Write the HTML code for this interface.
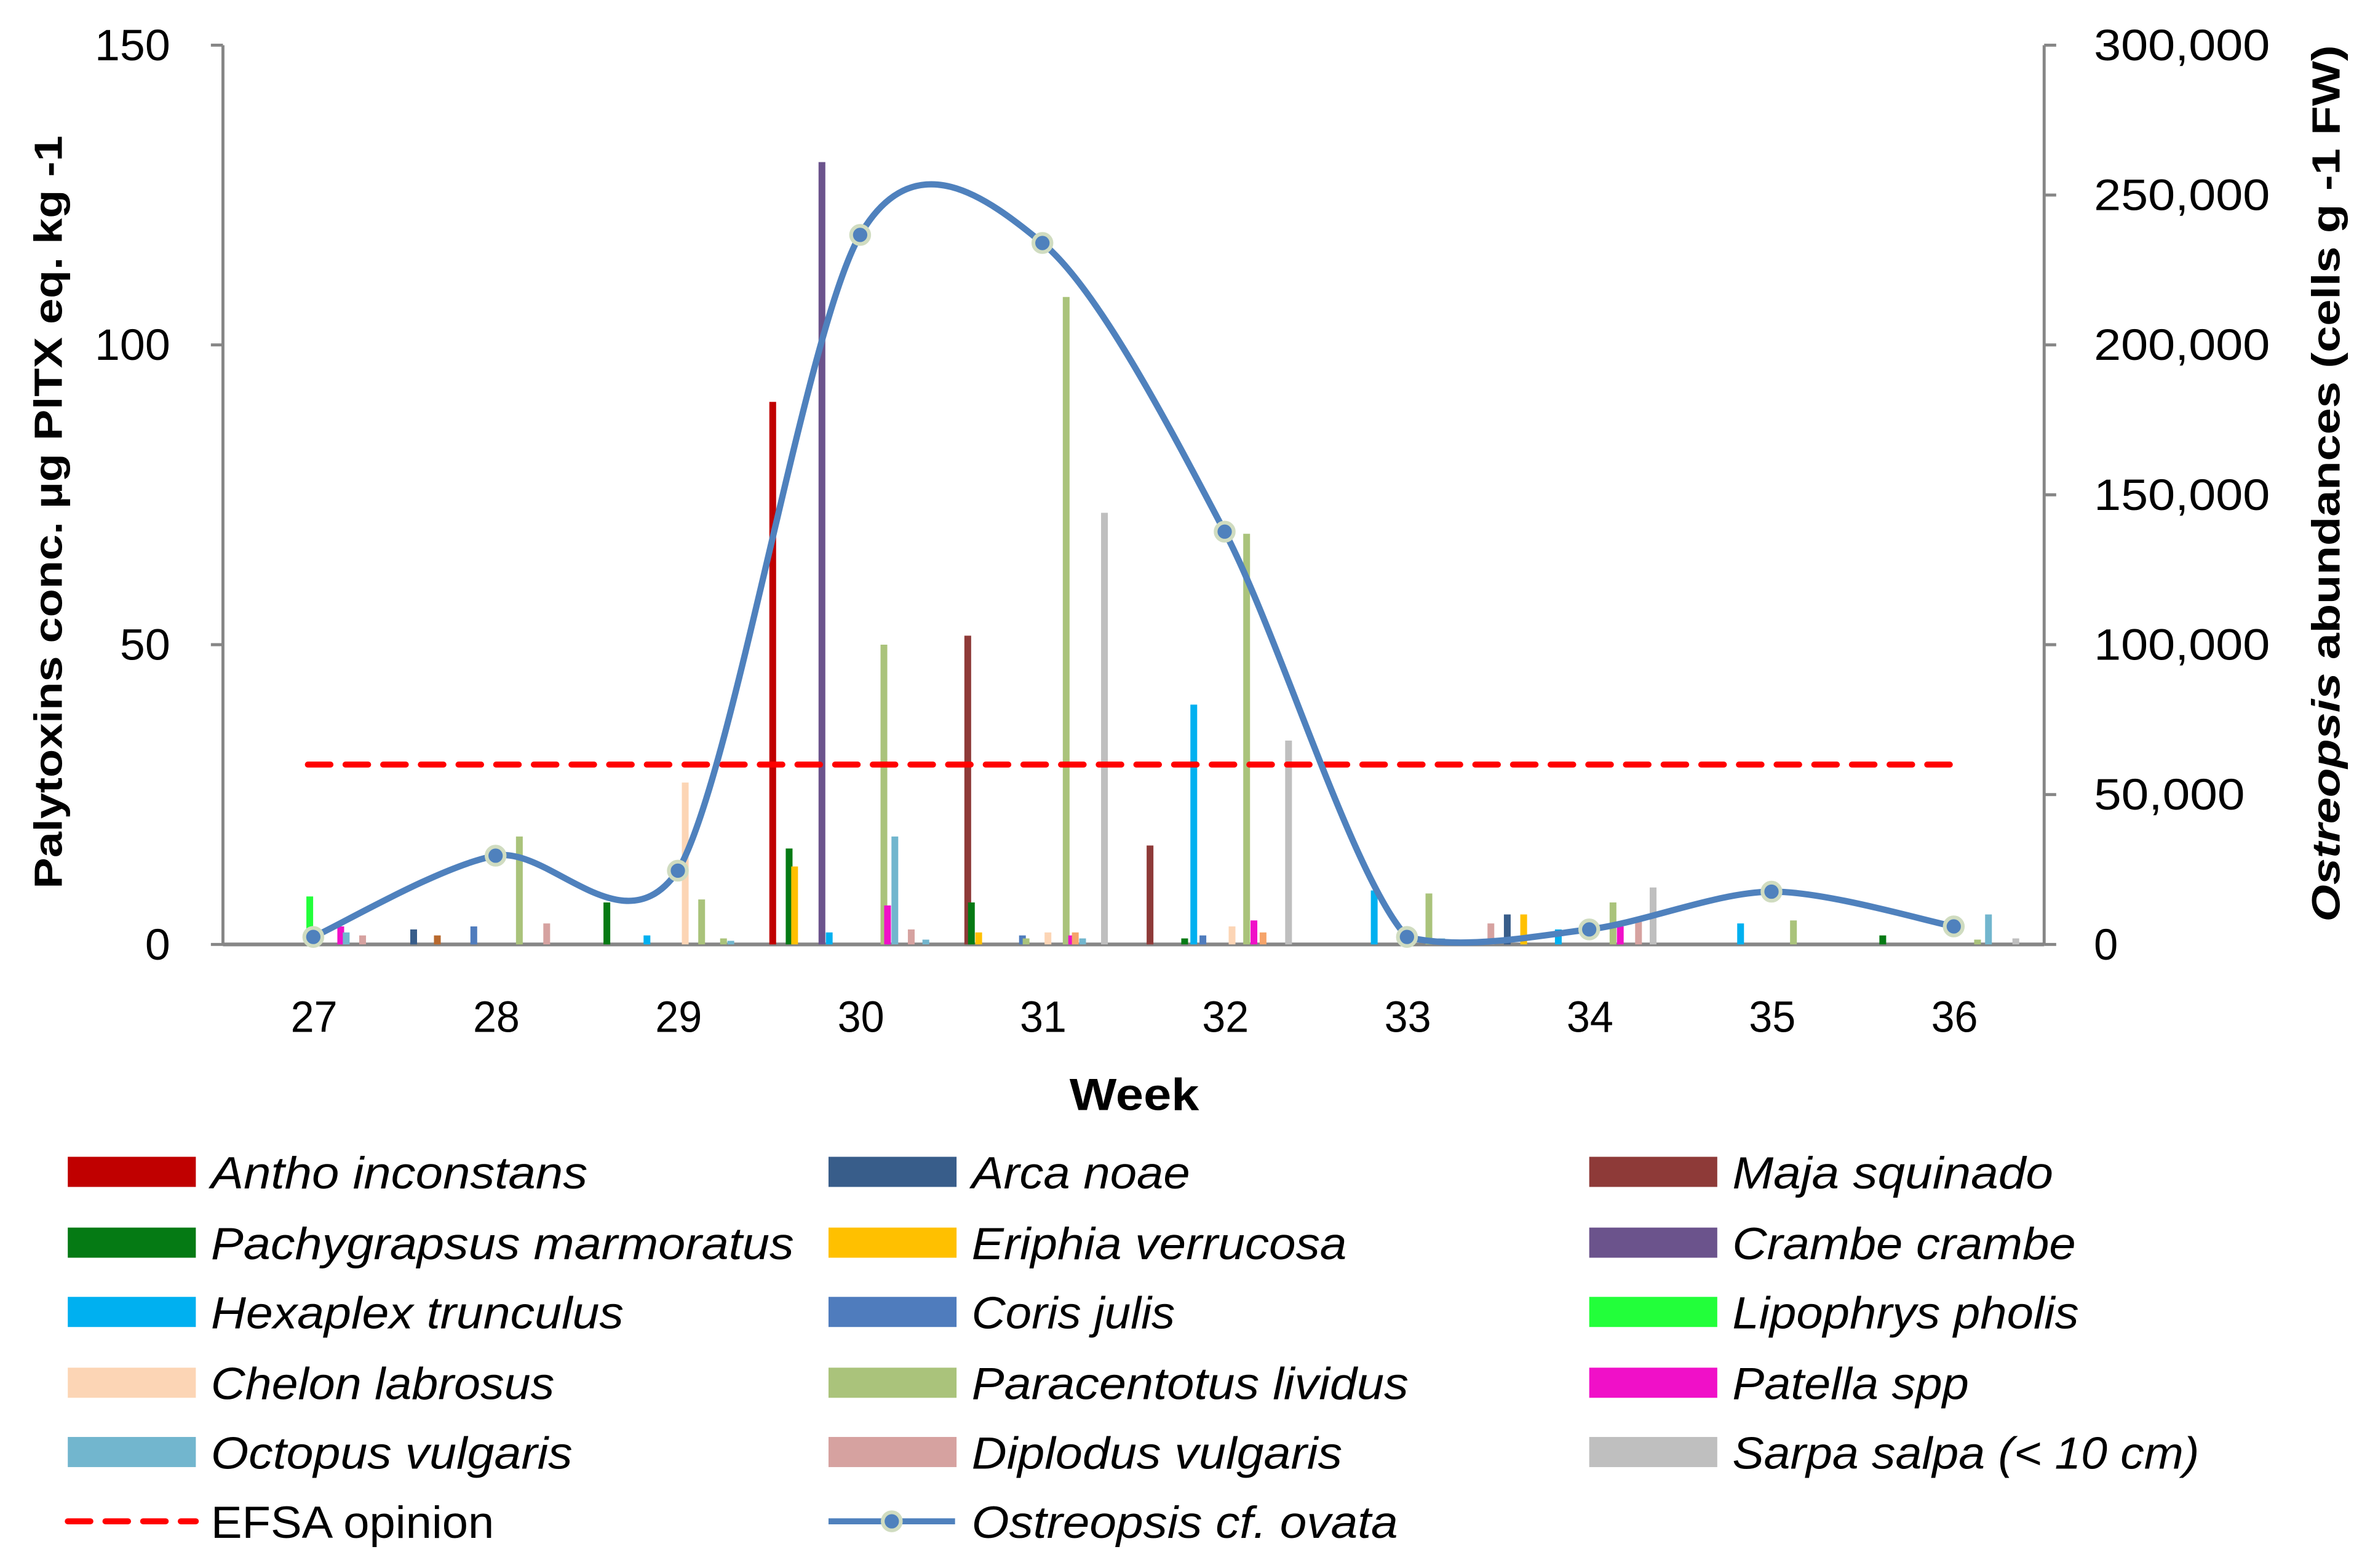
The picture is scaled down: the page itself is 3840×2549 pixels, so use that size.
<!DOCTYPE html>
<html><head><meta charset="utf-8"><style>
html,body{margin:0;padding:0;background:#fff;}
svg{display:block;font-family:"Liberation Sans",sans-serif;}
</style></head><body>
<svg id="chart" width="3840" height="2549" viewBox="0 0 1568 1041" preserveAspectRatio="none" xmlns="http://www.w3.org/2000/svg">
<rect width="1568" height="1041" fill="#fff"/>
<g id="axes"></g>
<g id="bars"></g>
<g id="lines"></g>
<g id="legend"></g>
</svg>
<script>
const weeks = [27,28,29,30,31,32,33,34,35,36];
const leftTicks = [0,50,100,150];
const rightTicks = [0,50000,100000,150000,200000,250000,300000];
const cellCounts = [2500,29600,24600,236700,234000,137700,2500,5000,17600,6000];
const efsaValue = 30;
const barWeeks = [26.98,27.0,27.15,27.18,27.27,27.55,27.68,27.88,28.13,28.28,28.61,28.83,29.04,29.13,29.25,29.29,29.52,29.61,29.64,29.79,29.83,30.13,30.15,30.19,30.28,30.36,30.59,30.61,30.65,30.89,30.91,31.03,31.13,31.16,31.18,31.22,31.34,31.59,31.78,31.83,31.88,32.04,32.12,32.16,32.21,32.35,32.82,33.12,33.19,33.36,33.46,33.55,33.64,33.83,34.13,34.17,34.27,34.35,34.83,35.12,35.61,36.13,36.19,36.34];
const barValues = [8,2.5,3,2,1.5,2.5,1.5,3,18,3.5,7,1.5,27,7.5,1,0.6,90.5,16,13,130.5,2,50,6.5,18,2.5,0.8,51.5,7,2,1.5,1,2,108,1.5,2,1,72,16.5,1,40,1.5,3,68.5,4,2,34,9,8.5,1,0.5,3.5,5,5,2.5,7,3,4,9.5,3.5,4,1.5,0.8,5,1];
const barSeries = ["Lipophrys","Chelon","Patella","Octopus","Diplodus","Arca","Orange","Coris","Paracentrotus","Diplodus","Pachygrapsus","Hexaplex","Chelon","Paracentrotus","Paracentrotus","Octopus","Antho","Pachygrapsus","Eriphia","Crambe","Hexaplex","Paracentrotus","Patella","Octopus","Diplodus","Octopus","Maja","Pachygrapsus","Eriphia","Coris","Paracentrotus","Chelon","Paracentrotus","Patella","Orange2","Octopus","Sarpa","Maja","Pachygrapsus","Hexaplex","Coris","Chelon","Paracentrotus","Patella","Orange2","Sarpa","Hexaplex","Paracentrotus","Octopus","Chelon","Diplodus","Arca","Eriphia","Hexaplex","Paracentrotus","Patella","Diplodus","Sarpa","Hexaplex","Paracentrotus","Pachygrapsus","Paracentrotus","Octopus","Sarpa"];
const colors = {Antho:"#C00000",Arca:"#385D8A",Maja:"#8E3A38",Pachygrapsus:"#057A14",Eriphia:"#FFC000",Crambe:"#6B538C",Hexaplex:"#00B0F0",Coris:"#4F7CBD",Lipophrys:"#22FF3A",Chelon:"#FCD5B5",Paracentrotus:"#AAC37B",Patella:"#F010C8",Octopus:"#72B6CE",Diplodus:"#D6A2A0",Sarpa:"#BFBFBF",Orange:"#B8692E",Orange2:"#F6A46A"};
const legendLabels = ["Antho inconstans","Arca noae","Maja squinado","Pachygrapsus marmoratus","Eriphia verrucosa","Crambe crambe","Hexaplex trunculus","Coris julis","Lipophrys pholis","Chelon labrosus","Paracentotus lividus","Patella spp","Octopus vulgaris","Diplodus vulgaris","Sarpa salpa (< 10 cm)"];
const legendKeys = ["Antho","Arca","Maja","Pachygrapsus","Eriphia","Crambe","Hexaplex","Coris","Lipophrys","Chelon","Paracentrotus","Patella","Octopus","Diplodus","Sarpa"];
const legendWidths = [250,145,213,387,249,228,274,135,230,228,290,157,240,246,310];

const NS="http://www.w3.org/2000/svg";
const X0=148,X1=1357,Y0=627,Y1=30;
const xs=w=>208+(w-27)*121;
const yl=v=>Y0-(v/150)*(Y0-Y1);
const yr=v=>Y0-(v/300000)*(Y0-Y1);
function mk(tag,attrs,parent){const e=document.createElementNS(NS,tag);for(const k in attrs)e.setAttribute(k,attrs[k]);parent.appendChild(e);return e;}
const axes=document.getElementById('axes'),bars=document.getElementById('bars'),lines=document.getElementById('lines'),legend=document.getElementById('legend');

let e;
e=mk('line',{x1:X0,y1:Y1,x2:X0,y2:Y0,stroke:'#868686','stroke-width':2},axes);

e=mk('line',{x1:X1,y1:Y1,x2:X1,y2:Y0,stroke:'#868686','stroke-width':2},axes);

leftTicks.forEach(t=>{
  mk('line',{x1:X0-8,x2:X0,y1:yl(t),y2:yl(t),stroke:'#868686','stroke-width':2},axes);
  const s=String(t);
  e=mk('text',{x:113-s.length*16.7,y:yl(t)+10,'font-size':29,textLength:s.length*16.7,lengthAdjust:'spacingAndGlyphs'},axes);e.textContent=s;
  
});
rightTicks.forEach(t=>{
  mk('line',{x1:X1,x2:X1+8,y1:yr(t),y2:yr(t),stroke:'#868686','stroke-width':2},axes);
  const s=t.toLocaleString('en-US');
  const L=s.length===1?16:s.length*16.7;
  e=mk('text',{x:1390,y:yr(t)+10,'font-size':29,textLength:L,lengthAdjust:'spacingAndGlyphs'},axes);e.textContent=s;
  
});
weeks.forEach(w=>{
  e=mk('text',{x:xs(w)-15,y:685,'font-size':29,textLength:31,lengthAdjust:'spacingAndGlyphs'},axes);e.textContent=w;
  
});
e=mk('text',{x:710,y:737,'font-size':30,'font-weight':'bold',textLength:86,lengthAdjust:'spacingAndGlyphs'},axes);e.textContent='Week';

e=mk('text',{x:0,y:0,'font-size':26,'font-weight':'bold',textLength:500,lengthAdjust:'spacingAndGlyphs',transform:'translate(41,590) rotate(-90)'},axes);e.textContent='Palytoxins conc. µg PlTX eq. kg -1';

e=mk('text',{x:0,y:0,'font-size':26,'font-weight':'bold',textLength:582,lengthAdjust:'spacingAndGlyphs',transform:'translate(1553,612) rotate(-90)'},axes);
e.innerHTML='<tspan font-style="italic">Ostreopsis</tspan>  abundances  (cells g -1 FW)';


barWeeks.forEach((w,i)=>{
  const v=barValues[i];
  e=mk('rect',{x:xs(w)-2.2,y:yl(v),width:4.5,height:Y0-yl(v),fill:colors[barSeries[i]]},bars);
  
});
e=mk('line',{x1:X0,y1:Y0,x2:X1,y2:Y0,stroke:'#868686','stroke-width':2.5},axes);


e=mk('line',{x1:xs(26.97),x2:xs(36),y1:yl(efsaValue),y2:yl(efsaValue),stroke:'#FF0000','stroke-width':4,'stroke-dasharray':'15 10','stroke-linecap':'round'},lines);


const pts=weeks.map((w,i)=>[xs(w),yr(cellCounts[i])]);
let d='M'+pts[0][0]+','+pts[0][1];
for(let i=0;i<pts.length-1;i++){
  const p0=pts[Math.max(0,i-1)],p1=pts[i],p2=pts[i+1],p3=pts[Math.min(pts.length-1,i+2)];
  const t=0.15;
  const lim=Y0+4;
  const c1y=Math.min(lim,p1[1]+(p2[1]-p0[1])*t), c2y=Math.min(lim,p2[1]-(p3[1]-p1[1])*t);
  d+=' C'+(p1[0]+(p2[0]-p0[0])*t)+','+c1y+' '+(p2[0]-(p3[0]-p1[0])*t)+','+c2y+' '+p2[0]+','+p2[1];
}
e=mk('path',{d:d,fill:'none',stroke:'#4F81BD','stroke-width':4.2},lines);

pts.forEach(p=>{
  e=mk('circle',{cx:p[0],cy:p[1],r:6,fill:'#4F81BD',stroke:'#D0DCC0','stroke-width':2.5},lines);
  
});

const colX=[45,550,1055];
const rowY=[778,825,871,918,964,1010];
legendLabels.forEach((lab,i)=>{
  const c=colX[i%3],y=rowY[Math.floor(i/3)];
  const g=mk('g',{},legend);
  
  mk('rect',{x:c,y:y-10,width:85,height:20,fill:colors[legendKeys[i]]},g);
  const t=mk('text',{x:c+95,y:y+11,'font-size':30,'font-style':'italic',textLength:legendWidths[i],lengthAdjust:'spacingAndGlyphs'},g);t.textContent=lab;
});
let g=mk('g',{},legend);

mk('line',{x1:45,x2:130,y1:1010,y2:1010,stroke:'#FF0000','stroke-width':4,'stroke-dasharray':'15 10','stroke-linecap':'round'},g);
e=mk('text',{x:140,y:1021,'font-size':30,textLength:188,lengthAdjust:'spacingAndGlyphs'},g);e.textContent='EFSA opinion';
g=mk('g',{},legend);

mk('line',{x1:550,x2:634,y1:1010,y2:1010,stroke:'#4F81BD','stroke-width':4},g);
mk('circle',{cx:592,cy:1010,r:6,fill:'#4F81BD',stroke:'#D0DCC0','stroke-width':2.5},g);
e=mk('text',{x:645,y:1021,'font-size':30,'font-style':'italic',textLength:283,lengthAdjust:'spacingAndGlyphs'},g);e.textContent='Ostreopsis cf. ovata';
</script>
</body></html>
